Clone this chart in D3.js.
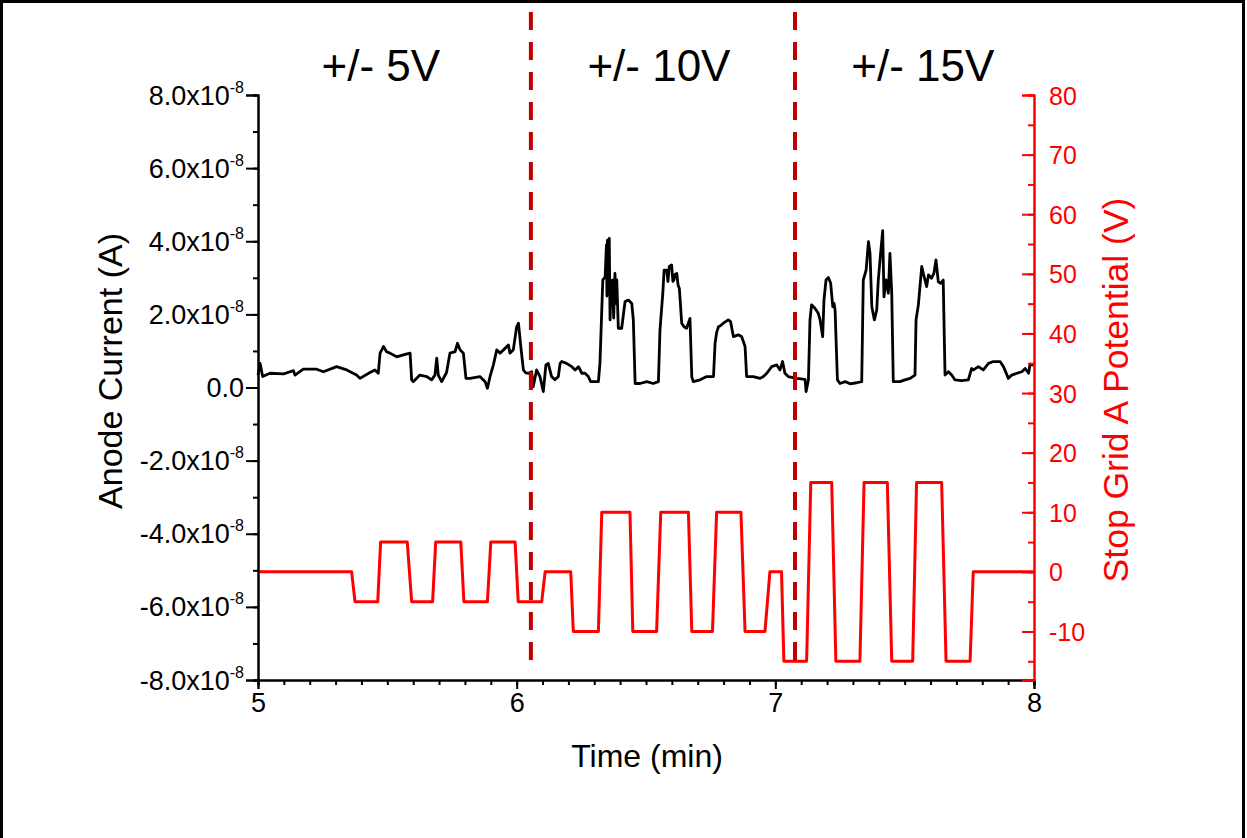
<!DOCTYPE html>
<html>
<head>
<meta charset="utf-8">
<script src="https://cdn.jsdelivr.net/npm/d3@7"></script>
<style>
  body { margin: 0; background: #fff; }
  svg { display: block; font-family: Arial, "Liberation Sans", sans-serif; }
</style>
</head>
<body>
<svg id="chart" width="1247" height="838"></svg>
<script>
// ---- data -------------------------------------------------------------
// anode current trace, time in min, current in units of 1e-8 A
var curTime = [5.000,5.008,5.018,5.046,5.098,5.137,5.143,5.175,5.227,5.253,5.304,5.343,5.381,5.394,5.433,5.452,5.465,5.472,5.485,5.497,5.510,5.536,5.562,5.588,5.594,5.600,5.626,5.652,5.671,5.684,5.691,5.697,5.710,5.729,5.742,5.762,5.771,5.781,5.794,5.804,5.820,5.858,5.878,5.887,5.897,5.910,5.923,5.936,5.955,5.968,5.974,5.987,6.000,6.007,6.016,6.026,6.035,6.046,6.058,6.064,6.077,6.090,6.103,6.113,6.122,6.135,6.148,6.161,6.168,6.174,6.193,6.213,6.226,6.239,6.252,6.264,6.277,6.286,6.316,6.322,6.333,6.342,6.347,6.349,6.351,6.354,6.358,6.361,6.366,6.371,6.375,6.380,6.384,6.387,6.393,6.406,6.419,6.432,6.445,6.451,6.458,6.477,6.503,6.528,6.548,6.554,6.565,6.570,6.580,6.585,6.590,6.599,6.604,6.608,6.613,6.619,6.624,6.629,6.638,6.647,6.657,6.670,6.677,6.683,6.709,6.735,6.761,6.767,6.773,6.780,6.790,6.799,6.818,6.827,6.838,6.857,6.870,6.883,6.889,6.915,6.941,6.954,6.967,6.986,7.005,7.018,7.028,7.037,7.050,7.082,7.115,7.119,7.128,7.134,7.140,7.153,7.166,7.173,7.183,7.188,7.196,7.205,7.214,7.222,7.227,7.231,7.240,7.250,7.270,7.289,7.314,7.334,7.340,7.351,7.360,7.366,7.373,7.383,7.392,7.398,7.407,7.415,7.420,7.428,7.437,7.443,7.450,7.456,7.482,7.501,7.521,7.540,7.544,7.553,7.566,7.572,7.585,7.592,7.604,7.613,7.621,7.630,7.639,7.649,7.656,7.669,7.682,7.694,7.720,7.746,7.759,7.766,7.785,7.804,7.824,7.843,7.869,7.882,7.901,7.914,7.934,7.953,7.966,7.979,7.985,7.998];
var curValue = [0.34,0.66,0.30,0.39,0.37,0.46,0.34,0.50,0.50,0.43,0.57,0.48,0.34,0.25,0.41,0.48,0.39,0.94,1.12,0.98,0.94,0.84,0.89,0.94,0.21,0.16,0.34,0.30,0.21,0.34,0.80,0.34,0.16,0.41,0.94,0.98,1.21,1.03,0.94,0.25,0.25,0.30,0.16,-0.02,0.30,0.62,1.03,0.94,1.07,1.16,0.94,1.03,1.66,1.76,1.12,0.48,0.40,0.39,0.43,0.02,0.48,0.30,-0.11,0.62,0.66,0.30,0.21,0.30,0.66,0.71,0.66,0.57,0.48,0.57,0.39,0.39,0.30,0.16,0.16,0.66,2.94,3.03,3.90,2.50,4.03,3.00,4.08,1.85,2.90,2.94,1.90,3.12,2.30,2.94,1.62,1.62,2.35,2.39,2.30,1.85,0.11,0.11,0.16,0.11,0.16,1.57,2.58,3.21,3.21,2.90,3.31,3.35,2.90,2.94,3.10,3.12,2.80,2.71,1.76,1.66,1.62,1.89,0.29,0.16,0.21,0.30,0.30,1.21,1.50,1.66,1.70,1.76,1.85,1.80,1.39,1.44,1.39,1.12,0.30,0.30,0.25,0.30,0.39,0.57,0.62,0.48,0.71,0.39,0.30,0.25,0.22,-0.11,0.21,1.85,2.26,2.17,2.03,1.85,1.39,2.39,2.94,3.01,2.85,2.21,2.30,2.12,0.21,0.11,0.16,0.10,0.13,0.16,2.94,3.21,3.99,3.67,2.21,1.85,2.12,2.94,3.67,4.29,2.48,2.94,2.58,3.67,2.58,0.16,0.16,0.21,0.25,0.34,1.85,2.26,3.31,3.12,2.76,3.08,2.99,3.12,3.49,2.89,2.85,2.94,0.34,0.43,0.34,0.21,0.19,0.21,0.52,0.48,0.57,0.48,0.66,0.71,0.71,0.57,0.25,0.34,0.39,0.43,0.52,0.39,0.64,0.61];

// stop grid A potential trace, time in min, potential in V
var potTime = [5.000,5.362,5.375,5.463,5.474,5.577,5.594,5.675,5.687,5.784,5.796,5.887,5.900,5.994,6.006,6.097,6.110,6.209,6.219,6.316,6.329,6.438,6.449,6.541,6.557,6.664,6.677,6.757,6.773,6.867,6.883,6.960,6.979,7.024,7.033,7.121,7.137,7.218,7.234,7.327,7.343,7.433,7.450,7.531,7.546,7.643,7.660,7.753,7.765,8.000];
var potValue = [0,0,-5,-5,5,5,-5,-5,5,5,-5,-5,5,5,-5,-5,0,0,-10,-10,10,10,-10,-10,10,10,-10,-10,10,10,-10,-10,0,0,-15,-15,15,15,-15,-15,15,15,-15,-15,15,15,-15,-15,0,0];

// region markers and labels
var markerTimes = [6.055, 7.076];
var regionLabels = ["+/- 5V", "+/- 10V", "+/- 15V"];
var regionCenters = [5.475, 6.550, 7.570];

// ticks
var xTicks = [5, 6, 7, 8];
var leftTicks = [-8, -6, -4, -2, 0, 2, 4, 6, 8];
var rightTicks = [-10, 0, 10, 20, 30, 40, 50, 60, 70, 80];

// ---- layout -----------------------------------------------------------
var svg = d3.select("#chart");
var L = 258, R = 1034, T = 95, B = 680;

var x = d3.scaleLinear().domain([5, 8]).range([L, R]);
var yL = d3.scaleLinear().domain([-8, 8]).range([B, T]);
var yR = d3.scaleLinear().domain([-18.14, 80]).range([B, T]);

// outer frame
svg.append("rect").attr("x", 1.5).attr("y", 1.5).attr("width", 1242).attr("height", 900)
  .attr("fill", "none").attr("stroke", "#000").attr("stroke-width", 3);

// ---- traces -----------------------------------------------------------
var potData = potTime.map(function (t, i) { return [t, potValue[i]]; });
var curData = curTime.map(function (t, i) { return [t, curValue[i]]; });

svg.append("path").datum(potData)
  .attr("fill", "none").attr("stroke", "#ff0000").attr("stroke-width", 3)
  .attr("stroke-linejoin", "round")
  .attr("d", d3.line().x(function (d) { return x(d[0]); }).y(function (d) { return yR(d[1]); }));

svg.append("path").datum(curData)
  .attr("fill", "none").attr("stroke", "#000").attr("stroke-width", 2.8)
  .attr("stroke-linejoin", "round")
  .attr("d", d3.line().x(function (d) { return x(d[0]); }).y(function (d) { return yL(d[1]); }));

// ---- axes -------------------------------------------------------------
function styleAxis(g, color) {
  g.select(".domain").attr("stroke", color).attr("stroke-width", 2);
  g.selectAll(".tick line").attr("stroke", color).attr("stroke-width", 2);
}

// bottom
var xMinor = svg.append("g").attr("transform", "translate(0," + B + ")")
  .call(d3.axisBottom(x).tickValues(d3.range(50, 81).map(function (v) { return v / 10; }))
    .tickSize(5).tickFormat(""));
styleAxis(xMinor, "#000");
var xAxis = svg.append("g").attr("transform", "translate(0," + B + ")")
  .call(d3.axisBottom(x).tickValues(xTicks).tickSize(9).tickPadding(4).tickFormat(d3.format("d")));
styleAxis(xAxis, "#000");
xAxis.selectAll("text").attr("font-size", 27).attr("fill", "#000").attr("font-family", null);

// left
var yMinor = svg.append("g").attr("transform", "translate(" + L + ",0)")
  .call(d3.axisLeft(yL).tickValues(d3.range(-8, 9, 1)).tickSize(5).tickFormat(""));
styleAxis(yMinor, "#000");
var yAxis = svg.append("g").attr("transform", "translate(" + L + ",0)")
  .call(d3.axisLeft(yL).tickValues(leftTicks).tickSize(12).tickFormat(""));
styleAxis(yAxis, "#000");
yAxis.selectAll(".tick").each(function (d) {
  var t = d3.select(this).append("text").attr("x", -14).attr("y", 9)
    .attr("text-anchor", "end").attr("font-size", 27).attr("fill", "#000");
  if (d === 0) {
    t.text("0.0");
  } else {
    t.append("tspan").text(d.toFixed(1) + "x10");
    t.append("tspan").attr("font-size", 16).attr("dy", -12).text("-8");
  }
});

// right (ticks point into the plot)
var rMinor = svg.append("g").attr("transform", "translate(" + R + ",0)")
  .call(d3.axisLeft(yR).tickValues(d3.range(-15, 81, 5)).tickSize(6).tickFormat(""));
styleAxis(rMinor, "#ff0000");
var rAxis = svg.append("g").attr("transform", "translate(" + R + ",0)")
  .call(d3.axisLeft(yR).tickValues(rightTicks).tickSize(12).tickFormat(""));
styleAxis(rAxis, "#ff0000");
rAxis.selectAll(".tick").append("text").attr("x", 15).attr("y", 9)
  .attr("text-anchor", "start").attr("font-size", 25).attr("fill", "#ff0000")
  .text(function (d) { return String(d); });

// ---- titles -----------------------------------------------------------
svg.append("text").attr("x", 647).attr("y", 767).attr("text-anchor", "middle")
  .attr("font-size", 32).attr("fill", "#000").text("Time (min)");

svg.append("text").attr("transform", "translate(122,371) rotate(-90)")
  .attr("text-anchor", "middle").attr("font-size", 34).attr("fill", "#000")
  .text("Anode Current (A)");

svg.append("text").attr("transform", "translate(1128,390) rotate(-90)")
  .attr("text-anchor", "middle").attr("font-size", 35.5).attr("fill", "#ff0000")
  .text("Stop Grid A Potential (V)");

// region labels
svg.selectAll("text.region").data(regionLabels).enter().append("text")
  .attr("class", "region")
  .attr("x", function (d, i) { return x(regionCenters[i]); })
  .attr("y", 81).attr("text-anchor", "middle")
  .attr("font-size", 44).attr("fill", "#000")
  .text(function (d) { return d; });

// dashed separators on top
svg.selectAll("line.marker").data(markerTimes).enter().append("line")
  .attr("class", "marker")
  .attr("x1", function (d) { return x(d); }).attr("x2", function (d) { return x(d); })
  .attr("y1", 12).attr("y2", 672)
  .attr("stroke", "#c00000").attr("stroke-width", 4)
  .attr("stroke-dasharray", "18,12");
</script>
</body>
</html>
